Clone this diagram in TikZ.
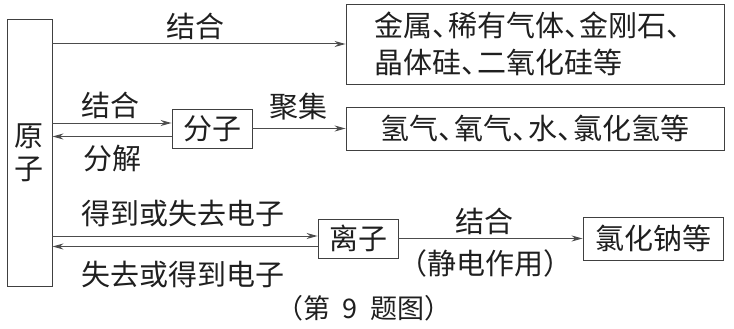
\documentclass[tikz,border=0pt]{standalone}
\usepackage{fontspec}
\setmainfont{Noto Sans CJK SC}
\usetikzlibrary{arrows.meta}
\newcommand\dunhao{、\kern-0.45em}
\begin{document}
\begin{tikzpicture}[x=1pt,y=-1pt,
  font=\fontsize{29}{34}\selectfont,
  box/.style={draw=black!75, line width=0.9pt, inner sep=0pt, text=black!88},
  arr/.style={draw=black!70, line width=1pt, -{Stealth[length=11pt,width=6pt]}},
  lbl/.style={inner sep=0pt, text=black!88}]
\useasboundingbox (0,0) rectangle (734,329);
% boxes
\node[box, minimum width=45pt, minimum height=267pt, align=center,
      font=\fontsize{29}{33}\selectfont] (yz) at (29.5,152.5) {原\\子};
\node[box, minimum width=378pt, minimum height=80pt, align=left,
      font=\fontsize{29}{37}\selectfont] (top) at (535,44)
      {金属\dunhao 稀有气体\dunhao 金刚石、\\晶体硅\dunhao 二氧化硅等};
\node[box, minimum width=80pt, minimum height=39pt] (fz) at (212,128.5) {分子};
\node[box, minimum width=378pt, minimum height=43pt] (b2) at (535,128.5)
      {氢气\dunhao 氧气\dunhao 水\dunhao 氯化氢等};
\node[box, minimum width=80pt, minimum height=39pt] (lz) at (358,238.5) {离子};
\node[box, minimum width=140pt, minimum height=43pt] (nacl) at (653,238.5) {氯化钠等};
% connectors
\draw[arr] (yz.east |- top.west) -- (top.west);
\coordinate (f1) at ([yshift=5.5pt]fz.west);
\coordinate (f2) at ([yshift=-8pt]fz.west);
\draw[arr] (yz.east |- f1) -- (f1);
\draw[arr] (f2) -- (yz.east |- f2);
\draw[arr] (fz.east) -- (b2.west);
\coordinate (l1) at ([yshift=2.5pt]lz.west);
\coordinate (l2) at ([yshift=-8pt]lz.west);
\draw[arr] (yz.east |- l1) -- (l1);
\draw[arr] (l2) -- (yz.east |- l2);
\draw[arr] (lz.east) -- (nacl.west);
% labels
\node[lbl] (t1) at (195,26) {结合};
\node[lbl] (t2) at (110,105) {结合};
\node[lbl] (t3) at (112,159) {分解};
\node[lbl] (t4) at (298,107) {聚集};
\node[lbl] (t5) at (183,213) {得到或失去电子};
\node[lbl] (t6) at (183,274) {失去或得到电子};
\node[lbl] (t7) at (484,221) {结合};
\node[lbl] (t8) at (485,263) {（静电作用）};
\node[lbl, font=\fontsize{27}{30}\selectfont] (cap) at (364,308)
      {（第\hspace{0.45em}9\hspace{0.45em}题图）};
\end{tikzpicture}
\end{document}
